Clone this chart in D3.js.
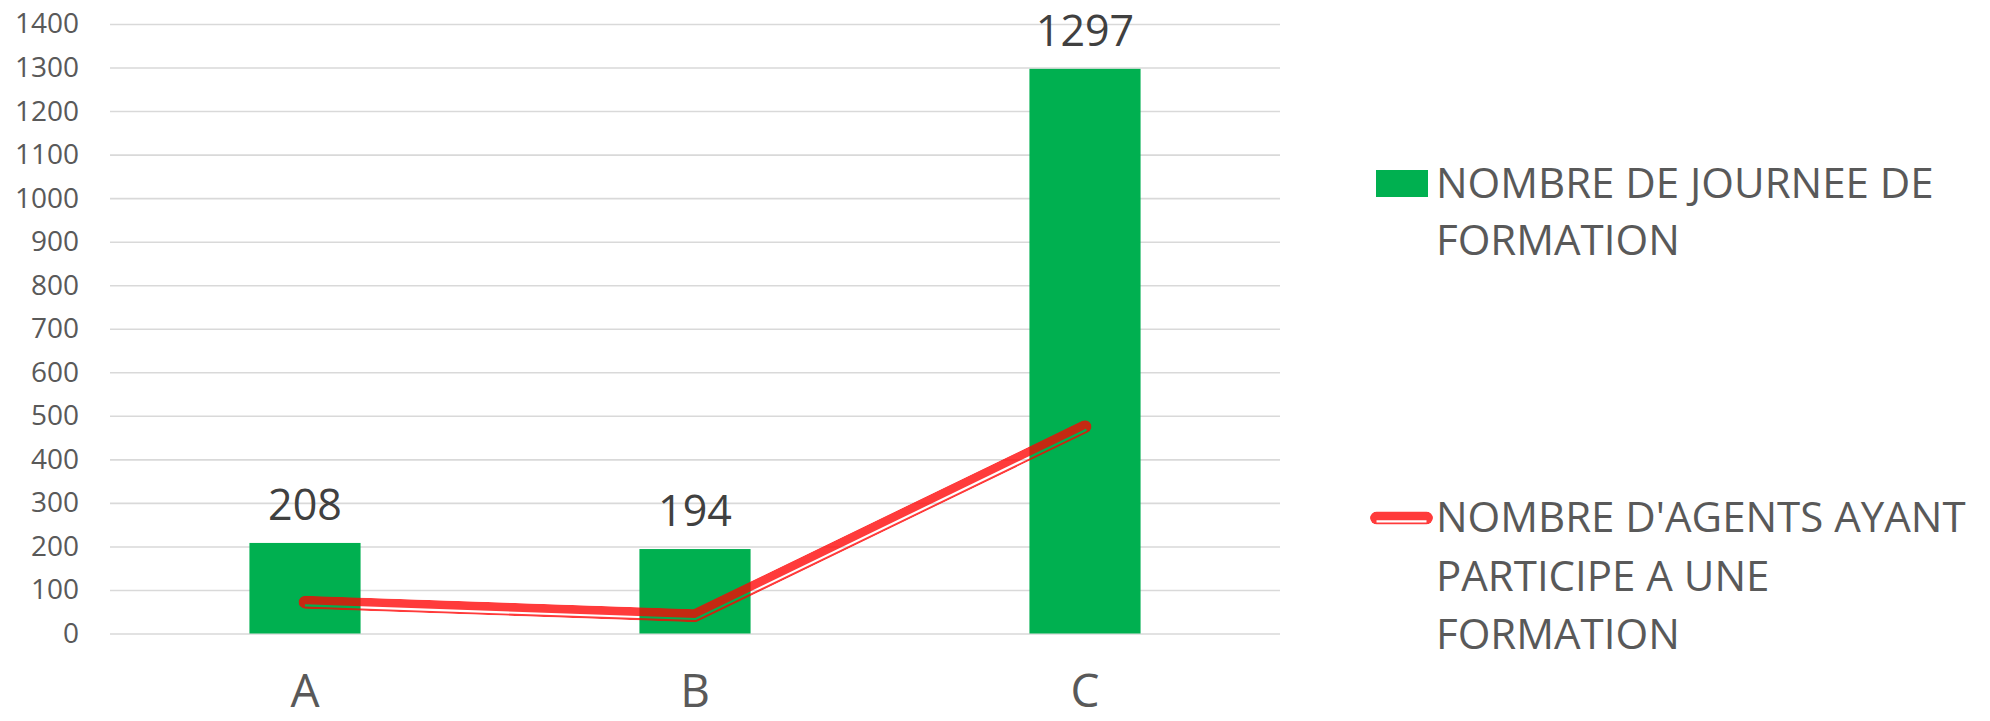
<!DOCTYPE html>
<html>
<head>
<meta charset="utf-8">
<script src="https://cdn.jsdelivr.net/npm/d3@7"></script>
<style>
  body { margin: 0; background: #fff; }
  text { font-family: "Open Sans", sans-serif; }
</style>
</head>
<body>
<div id="chart"></div>
<script>
const categories = ['A', 'B', 'C'];
const journees   = [208, 194, 1297];   // bars
const agents     = [72, 41, 475];      // line
const yTicks     = [0, 100, 200, 300, 400, 500, 600, 700, 800, 900, 1000, 1100, 1200, 1300, 1400];
const legendBar  = ['NOMBRE DE JOURNEE DE', 'FORMATION'];
const legendLine = ["NOMBRE D'AGENTS AYANT", 'PARTICIPE A UNE', 'FORMATION'];

const W = 1990, H = 721;
const GREEN = '#00B050', RED = '#FF0000';
const plot = { left: 110, right: 1280, top: 24, bottom: 633.5 };

const svg = d3.select('#chart').append('svg').attr('width', W).attr('height', H);

const x = d3.scaleBand().domain(categories).range([plot.left, plot.right])
  .paddingInner(0.715).paddingOuter(0.3575);
const y = d3.scaleLinear().domain([0, 1400]).range([plot.bottom, plot.top]);

// gridlines + tick labels
const yAxis = svg.append('g').attr('transform', `translate(${plot.left},0)`)
  .call(d3.axisLeft(y).tickValues(yTicks).tickFormat(d3.format('d'))
    .tickSize(-(plot.right - plot.left)).tickPadding(31));
yAxis.select('.domain').remove();
yAxis.selectAll('.tick line').attr('stroke', '#D9D9D9').attr('stroke-width', 1.6);
yAxis.selectAll('.tick text').attr('font-size', '28px').attr('fill', '#595959')
  .attr('font-family', '"Open Sans", sans-serif');

// bars
svg.selectAll('.bar').data(journees).join('rect')
  .attr('x', (d, i) => x(categories[i])).attr('width', x.bandwidth())
  .attr('y', d => y(d)).attr('height', d => y(0) - y(d))
  .attr('fill', GREEN);

// bar value labels
svg.selectAll('.val').data(journees).join('text')
  .attr('x', (d, i) => x(categories[i]) + x.bandwidth() / 2)
  .attr('y', d => y(d) - 23)
  .attr('text-anchor', 'middle').attr('font-size', '43px').attr('fill', '#404040')
  .text(d => d);

// category labels
svg.selectAll('.cat').data(categories).join('text')
  .attr('x', d => x(d) + x.bandwidth() / 2).attr('y', 707)
  .attr('text-anchor', 'middle').attr('font-size', '46px').attr('fill', '#595959')
  .text(d => d);

// offset a polyline perpendicular by distance off
function offsetLine(pts, off) {
  const n = pts.length, out = [];
  const normals = [];
  for (let i = 0; i < n - 1; i++) {
    const dx = pts[i + 1][0] - pts[i][0], dy = pts[i + 1][1] - pts[i][1];
    const len = Math.hypot(dx, dy);
    normals.push([-dy / len, dx / len]);
  }
  for (let i = 0; i < n; i++) {
    let nx, ny;
    if (i === 0) [nx, ny] = normals[0];
    else if (i === n - 1) [nx, ny] = normals[n - 2];
    else {
      const a = normals[i - 1], b = normals[i];
      let mx = a[0] + b[0], my = a[1] + b[1];
      const ml = Math.hypot(mx, my);
      mx /= ml; my /= ml;
      const k = 1 / (mx * a[0] + my * a[1]);
      nx = mx * k; ny = my * k;
    }
    out.push([pts[i][0] + nx * off, pts[i][1] + ny * off]);
  }
  return out;
}

// thick-thin compound red line, drawn through a mask so the gap is see-through
const defs = svg.append('defs');
let maskId = 0;
function compoundLine(pts) {
  const id = 'cl' + (maskId++);
  const line = d3.line();
  const mask = defs.append('mask').attr('id', id).attr('maskUnits', 'userSpaceOnUse')
    .attr('x', 0).attr('y', 0).attr('width', W).attr('height', H);
  mask.append('path').attr('d', line(pts)).attr('fill', 'none')
    .attr('stroke', '#fff').attr('stroke-width', 13)
    .attr('stroke-linecap', 'round').attr('stroke-linejoin', 'round');
  mask.append('path').attr('d', line(offsetLine(pts, 3.3))).attr('fill', 'none')
    .attr('stroke', '#000').attr('stroke-width', 2.2);
  svg.append('path').attr('d', line(pts)).attr('fill', 'none')
    .attr('stroke', RED).attr('stroke-opacity', 0.77).attr('stroke-width', 13)
    .attr('stroke-linecap', 'round').attr('stroke-linejoin', 'round')
    .attr('mask', `url(#${id})`);
}

compoundLine(agents.map((d, i) => [x(categories[i]) + x.bandwidth() / 2, y(d)]));

// legend
const lg = svg.append('g');
lg.append('rect').attr('x', 1376).attr('y', 170).attr('width', 52).attr('height', 27).attr('fill', GREEN);
legendBar.forEach((t, i) => {
  lg.append('text').attr('x', 1436).attr('y', 198 + i * 57)
    .attr('font-size', '42px').attr('fill', '#595959').text(t);
});
compoundLine([[1376.5, 518], [1426.5, 518]]);
legendLine.forEach((t, i) => {
  lg.append('text').attr('x', 1436).attr('y', 532 + i * 58.5)
    .attr('font-size', '42px').attr('fill', '#595959').text(t);
});
</script>
</body>
</html>
